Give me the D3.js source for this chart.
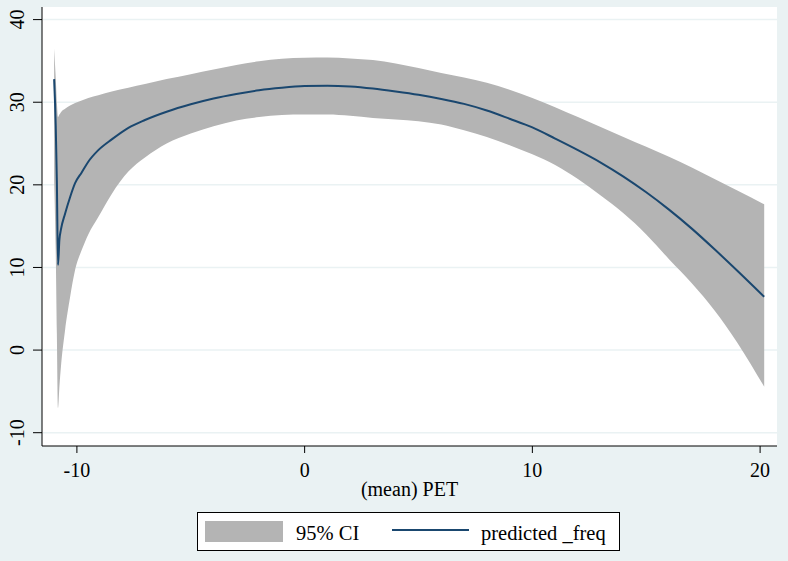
<!DOCTYPE html>
<html>
<head>
<meta charset="utf-8">
<script src="https://cdn.jsdelivr.net/npm/d3@7"></script>
<style>
  html, body { margin: 0; padding: 0; background: #eaf2f3; }
  svg { display: block; }
</style>
</head>
<body>
<svg id="chart" width="788" height="561" font-family="'Liberation Serif', 'Times New Roman', Times, 'DejaVu Serif', serif"></svg>
<script>
// ---- data ----
const pet = [-11.00, -10.93, -10.88, -10.83, -10.77, -10.70, -10.52, -10.30, -10.08, -9.79, -9.50, -9.06,
  -8.47, -7.74, -7.01, -6.06, -5, -4, -3, -2, -1, 0, 1, 2, 3, 4, 5, 6, 7, 8, 9, 10, 11, 12, 13, 14, 15,
  16, 17, 18, 19, 20.18];
const predicted = [32.8, 27.2, 20.5, 10.3, 13.3, 14.6, 16.5, 18.5, 20.2, 21.5, 22.8, 24.2,
  25.5, 26.9, 27.85, 28.85, 29.75, 30.45, 31.0, 31.45, 31.75, 31.95, 32.0, 31.9, 31.65, 31.3, 30.9, 30.4, 29.8, 29.0, 28.0, 26.95, 25.6, 24.2, 22.7, 21.0, 19.1,
  17.0, 14.7, 12.2, 9.6, 6.45];
const ciLower = [20.5, 12, 2, -7.0, -4.5, -2.0, 2.4, 6.4, 9.7, 12.1, 14.0, 16.1,
  18.9, 21.6, 23.3, 25.0, 26.2, 27.1, 27.8, 28.2, 28.45, 28.5, 28.5, 28.35, 28.1, 27.9, 27.7, 27.3, 26.6, 25.8, 24.8, 23.7, 22.4, 20.7, 18.7, 16.55, 14.0,
  11.0, 8.1, 4.8, 0.9, -4.43];
const ciUpper = [36.5, 33, 30, 28.2, 28.5, 28.8, 29.2, 29.6, 29.9, 30.2, 30.5, 30.85,
  31.3, 31.75, 32.2, 32.8, 33.4, 33.95, 34.5, 34.95, 35.25, 35.38, 35.4, 35.3, 35.1, 34.7, 34.15, 33.55, 33.0, 32.35, 31.5, 30.5, 29.4, 28.2, 27.0, 25.8, 24.6,
  23.4, 22.1, 20.7, 19.3, 17.65];
const xTicks = [-10, 0, 10, 20];
const yTicks = [-10, 0, 10, 20, 30, 40];
const xTitle = "(mean) PET";
const legendLabels = ["95% CI", "predicted _freq"];

// ---- layout ----
const svg = d3.select("#chart");
const plot = { left: 42, right: 777, top: 7, bottom: 446 };
const x = d3.scaleLinear().domain([-10, 20]).range([76.9, 760.1]);
const y = d3.scaleLinear().domain([-10, 40]).range([432.7, 19.6]);

const rows = pet.map((v, i) => ({ x: v, m: predicted[i], lo: ciLower[i], hi: ciUpper[i] }));

// background
svg.append("rect").attr("width", 788).attr("height", 561).attr("fill", "#eaf2f3");
svg.append("rect")
  .attr("x", plot.left).attr("y", plot.top)
  .attr("width", plot.right - plot.left).attr("height", plot.bottom - plot.top)
  .attr("fill", "#ffffff");

// grid lines
svg.append("g").selectAll("line").data(yTicks).join("line")
  .attr("x1", plot.left + 1).attr("x2", plot.right)
  .attr("y1", d => y(d)).attr("y2", d => y(d))
  .attr("stroke", "#eaf2f3").attr("stroke-width", 1.5);

// CI band
svg.append("path").datum(rows)
  .attr("fill", "#b4b4b4")
  .attr("d", d3.area().curve(d3.curveMonotoneX).x(d => x(d.x)).y0(d => y(d.lo)).y1(d => y(d.hi)));

// prediction line
svg.append("path").datum(rows)
  .attr("fill", "none").attr("stroke", "#1a476f").attr("stroke-width", 2)
  .attr("stroke-linejoin", "round")
  .attr("d", d3.line().curve(d3.curveMonotoneX).x(d => x(d.x)).y(d => y(d.m)));

// axes
const xAxis = svg.append("g").attr("transform", `translate(0,${plot.bottom})`);
xAxis.append("line").attr("x1", plot.left).attr("x2", plot.right).attr("stroke", "#000").attr("stroke-width", 1);
xAxis.selectAll("line.tick").data(xTicks).join("line").attr("class", "tick")
  .attr("x1", d => x(d)).attr("x2", d => x(d)).attr("y1", 0).attr("y2", 7)
  .attr("stroke", "#000").attr("stroke-width", 1);
xAxis.selectAll("text").data(xTicks).join("text")
  .attr("x", d => x(d)).attr("y", 31).attr("text-anchor", "middle")
  .attr("font-size", 20).text(d => d);

const yAxis = svg.append("g").attr("transform", `translate(${plot.left},0)`);
yAxis.append("line").attr("y1", plot.top).attr("y2", plot.bottom).attr("stroke", "#000").attr("stroke-width", 1);
yAxis.selectAll("line.tick").data(yTicks).join("line").attr("class", "tick")
  .attr("y1", d => y(d)).attr("y2", d => y(d)).attr("x1", 0).attr("x2", -9)
  .attr("stroke", "#000").attr("stroke-width", 1);
yAxis.selectAll("text").data(yTicks).join("text")
  .attr("transform", d => `translate(-18,${y(d)}) rotate(-90)`)
  .attr("text-anchor", "middle").attr("font-size", 20).text(d => d);

// x title
svg.append("text").attr("x", (plot.left + plot.right) / 2).attr("y", 496)
  .attr("text-anchor", "middle").attr("font-size", 20).text(xTitle);

// legend
const lg = svg.append("g");
lg.append("rect").attr("x", 197.5).attr("y", 512.5).attr("width", 422).attr("height", 38)
  .attr("fill", "#fff").attr("stroke", "#000").attr("stroke-width", 1);
lg.append("rect").attr("x", 205).attr("y", 521).attr("width", 78).attr("height", 21).attr("fill", "#b4b4b4");
lg.append("text").attr("x", 296).attr("y", 540).attr("font-size", 20.5).text(legendLabels[0]);
lg.append("line").attr("x1", 392).attr("x2", 469).attr("y1", 530).attr("y2", 530)
  .attr("stroke", "#1a476f").attr("stroke-width", 2);
lg.append("text").attr("x", 481).attr("y", 540).attr("font-size", 20.5).text(legendLabels[1]);
</script>
</body>
</html>
